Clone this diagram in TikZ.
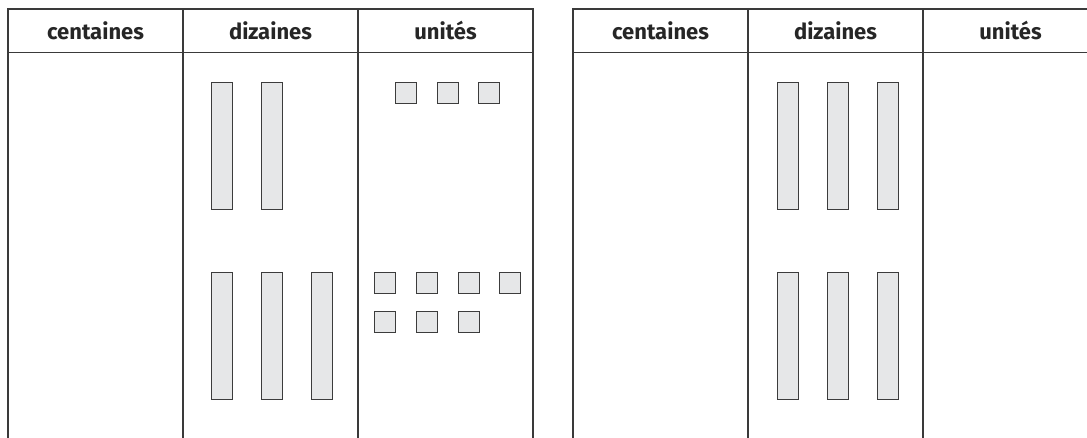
\documentclass[tikz,border=0pt]{standalone}
\usepackage{fontspec}
\setmainfont{Fira Sans}
\definecolor{rule}{HTML}{3A3A3A}
\definecolor{blockfill}{HTML}{E6E7E8}
\definecolor{blockline}{HTML}{3C3C3C}
\begin{document}
\begin{tikzpicture}[x=1pt,y=-1pt,
  gridline/.style={draw=rule,line width=1.4pt},
  head/.style={anchor=base,font=\bfseries\fontsize{22}{22}\selectfont,text=black!85,inner sep=0pt},
  stick/.style={draw=blockline,fill=blockfill,line width=1.1pt,minimum width=21pt,minimum height=127pt,inner sep=0pt,anchor=north west},
  unit/.style={draw=blockline,fill=blockfill,line width=1.1pt,minimum width=21pt,minimum height=21pt,inner sep=0pt,anchor=north west}]
\useasboundingbox (0,0) rectangle (1087,438);
% left table
\draw[gridline] (8,438) -- (8,9) -- (533,9) -- (533,438);
\draw[gridline] (8,52.7) -- (533,52.7);
\draw[gridline] (183,9) -- (183,438);
\draw[gridline] (358,9) -- (358,438);
% right table
\draw[gridline] (573,438) -- (573,9) -- (1087,9);
\draw[gridline] (573,52.7) -- (1087,52.7);
\draw[gridline] (748,9) -- (748,438);
\draw[gridline] (923,9) -- (923,438);
% headers
\node[head] (hc1) at (95.5,40) {centaines};
\node[head] (hd1) at (270.5,40) {dizaines};
\node[head] (hu1) at (445.5,40) {unités};
\node[head] (hc2) at (660.5,40) {centaines};
\node[head] (hd2) at (835.5,40) {dizaines};
\node[head] (hu2) at (1010.5,40) {unités};
% left dizaines
\node[stick] (a1) at (211,82) {};
\node[stick] (a2) at (261,82) {};
\node[stick] (a3) at (211,272) {};
\node[stick] (a4) at (261,272) {};
\node[stick] (a5) at (311,272) {};
% left unites
\node[unit] (u1) at (395,82) {};
\node[unit] (u2) at (436.5,82) {};
\node[unit] (u3) at (478,82) {};
\node[unit] (u4) at (374,272) {};
\node[unit] (u5) at (416,272) {};
\node[unit] (u6) at (457.5,272) {};
\node[unit] (u7) at (499,272) {};
\node[unit] (u8) at (374,311) {};
\node[unit] (u9) at (416,311) {};
\node[unit] (u10) at (457.5,311) {};
% right dizaines
\node[stick] (b1) at (777,82) {};
\node[stick] (b2) at (827,82) {};
\node[stick] (b3) at (877,82) {};
\node[stick] (b4) at (777,272) {};
\node[stick] (b5) at (827,272) {};
\node[stick] (b6) at (877,272) {};
\end{tikzpicture}
\end{document}
